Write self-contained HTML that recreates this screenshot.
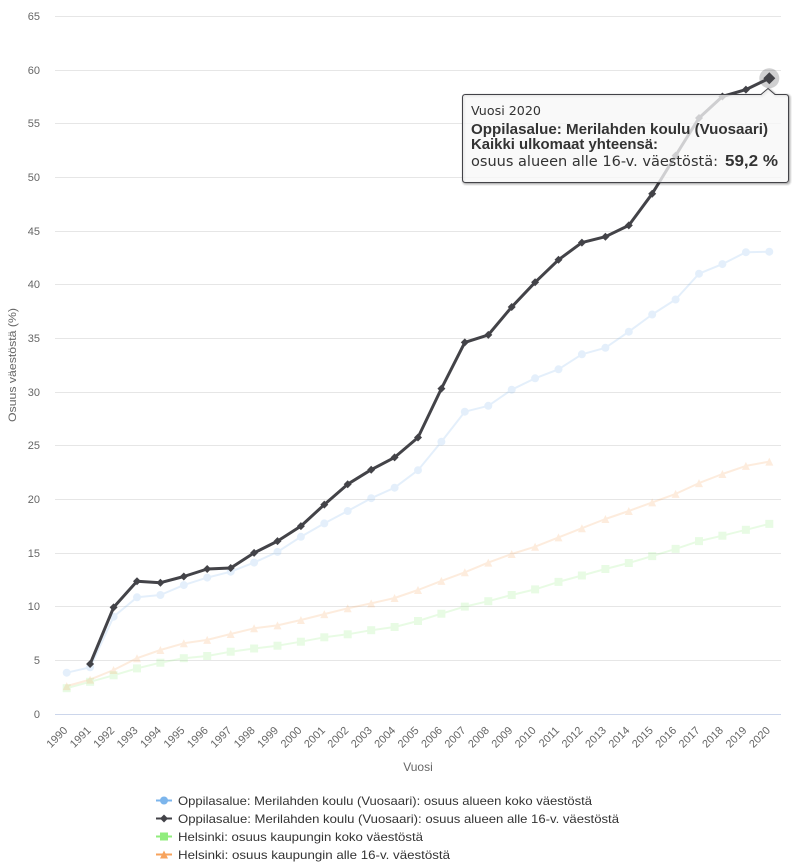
<!DOCTYPE html>
<html>
<head>
<meta charset="utf-8">
<style>
html,body{margin:0;padding:0;background:#fff;}
svg{display:block;font-family:"Liberation Sans",sans-serif;}
</style>
</head>
<body>
<svg width="795" height="867" viewBox="0 0 795 867" xmlns="http://www.w3.org/2000/svg">
<defs>
<marker id="mc" viewBox="-6 -6 12 12" markerWidth="12" markerHeight="12" refX="0" refY="0" markerUnits="userSpaceOnUse" orient="0"><circle r="4" fill="#7cb5ec"/></marker>
<marker id="md" viewBox="-6 -6 12 12" markerWidth="12" markerHeight="12" refX="0" refY="0" markerUnits="userSpaceOnUse" orient="0"><path d="M0,-4 L4,0 L0,4 L-4,0 Z" fill="#434348"/></marker>
<marker id="ms" viewBox="-6 -6 12 12" markerWidth="12" markerHeight="12" refX="0" refY="0" markerUnits="userSpaceOnUse" orient="0"><rect x="-4" y="-4" width="8" height="8" fill="#90ed7d"/></marker>
<marker id="mt" viewBox="-6 -6 12 12" markerWidth="12" markerHeight="12" refX="0" refY="0" markerUnits="userSpaceOnUse" orient="0"><path d="M0,-4 L4,4 L-4,4 Z" fill="#f7a35c"/></marker>
</defs>
<rect width="795" height="867" fill="#fff"/>

<!-- gridlines -->
<g stroke="#e6e6e6" stroke-width="1">
<line x1="55" x2="781" y1="16.5" y2="16.5"/>
<line x1="55" x2="781" y1="70.5" y2="70.5"/>
<line x1="55" x2="781" y1="123.5" y2="123.5"/>
<line x1="55" x2="781" y1="177.5" y2="177.5"/>
<line x1="55" x2="781" y1="231.5" y2="231.5"/>
<line x1="55" x2="781" y1="284.5" y2="284.5"/>
<line x1="55" x2="781" y1="338.5" y2="338.5"/>
<line x1="55" x2="781" y1="392.5" y2="392.5"/>
<line x1="55" x2="781" y1="445.5" y2="445.5"/>
<line x1="55" x2="781" y1="499.5" y2="499.5"/>
<line x1="55" x2="781" y1="553.5" y2="553.5"/>
<line x1="55" x2="781" y1="606.5" y2="606.5"/>
<line x1="55" x2="781" y1="660.5" y2="660.5"/>
</g>
<line x1="55" x2="781" y1="714.5" y2="714.5" stroke="#ccd6eb" stroke-width="1"/>

<!-- y labels -->
<g font-size="11" fill="#666" text-anchor="end">
<text x="40" y="20">65</text>
<text x="40" y="74">60</text>
<text x="40" y="127">55</text>
<text x="40" y="181">50</text>
<text x="40" y="235">45</text>
<text x="40" y="288">40</text>
<text x="40" y="342">35</text>
<text x="40" y="396">30</text>
<text x="40" y="449">25</text>
<text x="40" y="503">20</text>
<text x="40" y="557">15</text>
<text x="40" y="610">10</text>
<text x="40" y="664">5</text>
<text x="40" y="718">0</text>
</g>
<text x="16" y="365" transform="rotate(-90 16 365)" font-size="11" fill="#666" text-anchor="middle" textLength="114" lengthAdjust="spacingAndGlyphs">Osuus väestöstä (%)</text>

<!-- x labels -->
<g font-size="11" fill="#666" text-anchor="end">
<text x="68.2" y="731" transform="rotate(-45 68.2 731)">1990</text>
<text x="91.6" y="731" transform="rotate(-45 91.6 731)">1991</text>
<text x="115.1" y="731" transform="rotate(-45 115.1 731)">1992</text>
<text x="138.5" y="731" transform="rotate(-45 138.5 731)">1993</text>
<text x="161.9" y="731" transform="rotate(-45 161.9 731)">1994</text>
<text x="185.3" y="731" transform="rotate(-45 185.3 731)">1995</text>
<text x="208.7" y="731" transform="rotate(-45 208.7 731)">1996</text>
<text x="232.2" y="731" transform="rotate(-45 232.2 731)">1997</text>
<text x="255.6" y="731" transform="rotate(-45 255.6 731)">1998</text>
<text x="279.0" y="731" transform="rotate(-45 279.0 731)">1999</text>
<text x="302.4" y="731" transform="rotate(-45 302.4 731)">2000</text>
<text x="325.8" y="731" transform="rotate(-45 325.8 731)">2001</text>
<text x="349.2" y="731" transform="rotate(-45 349.2 731)">2002</text>
<text x="372.7" y="731" transform="rotate(-45 372.7 731)">2003</text>
<text x="396.1" y="731" transform="rotate(-45 396.1 731)">2004</text>
<text x="419.5" y="731" transform="rotate(-45 419.5 731)">2005</text>
<text x="442.9" y="731" transform="rotate(-45 442.9 731)">2006</text>
<text x="466.3" y="731" transform="rotate(-45 466.3 731)">2007</text>
<text x="489.8" y="731" transform="rotate(-45 489.8 731)">2008</text>
<text x="513.2" y="731" transform="rotate(-45 513.2 731)">2009</text>
<text x="536.6" y="731" transform="rotate(-45 536.6 731)">2010</text>
<text x="560.0" y="731" transform="rotate(-45 560.0 731)">2011</text>
<text x="583.4" y="731" transform="rotate(-45 583.4 731)">2012</text>
<text x="606.9" y="731" transform="rotate(-45 606.9 731)">2013</text>
<text x="630.3" y="731" transform="rotate(-45 630.3 731)">2014</text>
<text x="653.7" y="731" transform="rotate(-45 653.7 731)">2015</text>
<text x="677.1" y="731" transform="rotate(-45 677.1 731)">2016</text>
<text x="700.5" y="731" transform="rotate(-45 700.5 731)">2017</text>
<text x="723.9" y="731" transform="rotate(-45 723.9 731)">2018</text>
<text x="747.4" y="731" transform="rotate(-45 747.4 731)">2019</text>
<text x="770.8" y="731" transform="rotate(-45 770.8 731)">2020</text>
</g>
<text x="418" y="771" font-size="12" fill="#666" text-anchor="middle">Vuosi</text>

<!-- faded series -->
<g opacity="0.2">
<polyline fill="none" stroke="#7cb5ec" stroke-width="2" stroke-linejoin="round" marker-start="url(#mc)" marker-mid="url(#mc)" marker-end="url(#mc)" points="66.7,672.7 90.1,667.3 113.6,616.7 137.0,597.3 160.4,595.0 183.8,585.1 207.2,577.6 230.7,571.7 254.1,562.6 277.5,551.9 300.9,536.8 324.3,523.4 347.7,511.0 371.2,498.2 394.6,487.7 418.0,470.2 441.4,441.7 464.8,411.7 488.3,405.8 511.7,389.7 535.1,378.3 558.5,369.3 581.9,354.3 605.4,347.8 628.8,331.7 652.2,314.5 675.6,299.5 699.0,273.7 722.4,264.1 745.9,252.2 769.3,251.7"/>
</g>
<g opacity="0.2">
<polyline fill="none" stroke="#90ed7d" stroke-width="2" stroke-linejoin="round" marker-start="url(#ms)" marker-mid="url(#ms)" marker-end="url(#ms)" points="66.7,688.2 90.1,681.8 113.6,675.3 137.0,668.4 160.4,662.7 183.8,658.2 207.2,656.0 230.7,651.7 254.1,648.5 277.5,645.7 300.9,641.7 324.3,637.3 347.7,634.3 371.2,630.2 394.6,627.0 418.0,621.0 441.4,613.7 464.8,606.6 488.3,601.2 511.7,595.0 535.1,589.4 558.5,581.9 581.9,575.5 605.4,569.0 628.8,563.0 652.2,556.1 675.6,548.9 699.0,541.1 722.4,535.7 745.9,529.8 769.3,523.9"/>
</g>
<g opacity="0.2">
<polyline fill="none" stroke="#f7a35c" stroke-width="2" stroke-linejoin="round" marker-start="url(#mt)" marker-mid="url(#mt)" marker-end="url(#mt)" points="66.7,686.1 90.1,679.6 113.6,670.0 137.0,658.2 160.4,650.0 183.8,643.3 207.2,639.9 230.7,634.0 254.1,628.3 277.5,625.4 300.9,620.0 324.3,614.1 347.7,608.3 371.2,603.4 394.6,598.0 418.0,590.0 441.4,580.9 464.8,572.3 488.3,562.6 511.7,554.0 535.1,546.7 558.5,537.4 581.9,528.2 605.4,519.0 628.8,511.0 652.2,502.4 675.6,493.9 699.0,483.1 722.4,474.0 745.9,465.9 769.3,461.6"/>
</g>

<!-- highlighted series -->
<polyline fill="none" stroke="#434348" stroke-width="3" stroke-linejoin="round" stroke-linecap="round" marker-start="url(#md)" marker-mid="url(#md)" marker-end="url(#md)" points="90.1,664.0 113.6,607.4 137.0,581.2 160.4,582.7 183.8,576.5 207.2,569.0 230.7,568.0 254.1,552.9 277.5,541.1 300.9,526.1 324.3,504.6 347.7,484.2 371.2,469.7 394.6,457.4 418.0,437.5 441.4,388.6 464.8,342.4 488.3,334.9 511.7,307.0 535.1,282.3 558.5,259.8 581.9,242.6 605.4,236.7 628.8,225.4 652.2,193.7 675.6,155.6 699.0,118.0 722.4,96.5 745.9,89.6 769.3,78.3"/>

<!-- hover point -->
<circle cx="769.3" cy="78.3" r="10" fill="#434348" opacity="0.25"/>
<path d="M769.3,72.3 L775.3,78.3 L769.3,84.3 L763.3,78.3 Z" fill="#434348"/>

<!-- tooltip -->
<g transform="translate(1,1)" fill="none" stroke="#000">
<path d="M465.5,94.5 L761,94.5 L768,88.5 L775,94.5 L785.5,94.5 Q788.5,94.5 788.5,97.5 L788.5,179.5 Q788.5,182.5 785.5,182.5 L465.5,182.5 Q462.5,182.5 462.5,179.5 L462.5,97.5 Q462.5,94.5 465.5,94.5 Z" stroke-opacity="0.05" stroke-width="5"/>
<path d="M465.5,94.5 L761,94.5 L768,88.5 L775,94.5 L785.5,94.5 Q788.5,94.5 788.5,97.5 L788.5,179.5 Q788.5,182.5 785.5,182.5 L465.5,182.5 Q462.5,182.5 462.5,179.5 L462.5,97.5 Q462.5,94.5 465.5,94.5 Z" stroke-opacity="0.1" stroke-width="3"/>
<path d="M465.5,94.5 L761,94.5 L768,88.5 L775,94.5 L785.5,94.5 Q788.5,94.5 788.5,97.5 L788.5,179.5 Q788.5,182.5 785.5,182.5 L465.5,182.5 Q462.5,182.5 462.5,179.5 L462.5,97.5 Q462.5,94.5 465.5,94.5 Z" stroke-opacity="0.15" stroke-width="1"/>
</g>
<path d="M465.5,94.5 L761,94.5 L768,88.5 L775,94.5 L785.5,94.5 Q788.5,94.5 788.5,97.5 L788.5,179.5 Q788.5,182.5 785.5,182.5 L465.5,182.5 Q462.5,182.5 462.5,179.5 L462.5,97.5 Q462.5,94.5 465.5,94.5 Z" fill="rgba(247,247,247,0.78)" stroke="#434348" stroke-width="1"/>
<text x="471" y="115" font-family="DejaVu Sans, sans-serif" font-size="12" fill="#333" textLength="70" lengthAdjust="spacingAndGlyphs">Vuosi 2020</text>
<text x="471" y="134" font-size="14.5" font-weight="bold" fill="#333" textLength="297" lengthAdjust="spacingAndGlyphs">Oppilasalue: Merilahden koulu (Vuosaari)</text>
<text x="471" y="149" font-size="14.5" font-weight="bold" fill="#333" textLength="187" lengthAdjust="spacingAndGlyphs">Kaikki ulkomaat yhteensä:</text>
<text x="471" y="166" font-family="DejaVu Sans, sans-serif" font-size="14" fill="#333" textLength="247" lengthAdjust="spacingAndGlyphs">osuus alueen alle 16-v. väestöstä:</text>
<text x="725" y="166" font-size="16" font-weight="bold" fill="#333" textLength="53" lengthAdjust="spacingAndGlyphs">59,2 %</text>

<!-- legend -->
<g>
<line x1="156" x2="172" y1="800.5" y2="800.5" stroke="#7cb5ec" stroke-width="2"/>
<circle cx="164" cy="800.5" r="4" fill="#7cb5ec"/>
<text x="178" y="805" font-size="12" fill="#333" textLength="414" lengthAdjust="spacingAndGlyphs">Oppilasalue: Merilahden koulu (Vuosaari): osuus alueen koko väestöstä</text>

<line x1="156" x2="172" y1="818.5" y2="818.5" stroke="#434348" stroke-width="2"/>
<path d="M164,814.5 L168,818.5 L164,822.5 L160,818.5 Z" fill="#434348"/>
<text x="178" y="823" font-size="12" fill="#333" textLength="441" lengthAdjust="spacingAndGlyphs">Oppilasalue: Merilahden koulu (Vuosaari): osuus alueen alle 16-v. väestöstä</text>

<line x1="156" x2="172" y1="836.5" y2="836.5" stroke="#90ed7d" stroke-width="2"/>
<rect x="160" y="832.5" width="8" height="8" fill="#90ed7d"/>
<text x="178" y="841" font-size="12" fill="#333" textLength="245" lengthAdjust="spacingAndGlyphs">Helsinki: osuus kaupungin koko väestöstä</text>

<line x1="156" x2="172" y1="854.5" y2="854.5" stroke="#f7a35c" stroke-width="2"/>
<path d="M164,850.5 L168,858.5 L160,858.5 Z" fill="#f7a35c"/>
<text x="178" y="859" font-size="12" fill="#333" textLength="272" lengthAdjust="spacingAndGlyphs">Helsinki: osuus kaupungin alle 16-v. väestöstä</text>
</g>
</svg>
</body>
</html>
